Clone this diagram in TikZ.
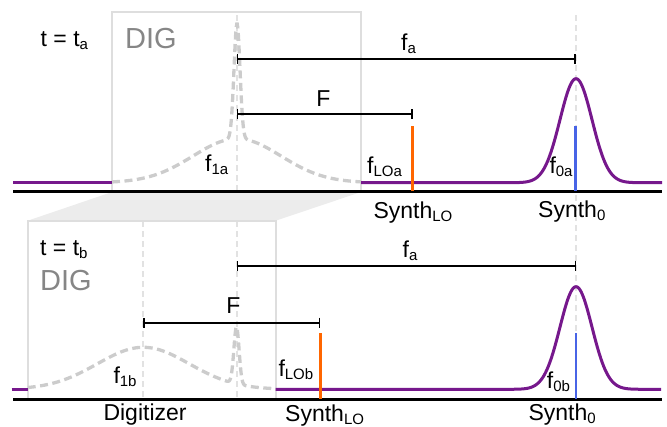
\documentclass[tikz,border=0pt]{standalone}
\usepackage{fontspec}
\setmainfont{Liberation Sans}
\usetikzlibrary{arrows.meta}
\newcommand{\sbs}[1]{\raisebox{-3pt}{\fontsize{15}{15}\selectfont #1}}
\definecolor{purp}{RGB}{118,24,140}
\definecolor{orng}{RGB}{255,102,0}
\definecolor{blu}{RGB}{72,100,230}
\definecolor{boxgray}{RGB}{222,222,222}
\definecolor{fillgray}{RGB}{236,236,236}
\definecolor{curvegray}{RGB}{204,204,204}
\definecolor{vgray}{RGB}{226,226,226}
\definecolor{diggray}{RGB}{134,134,134}
\begin{document}
\begin{tikzpicture}[x=1pt,y=-1pt,
  lbl/.style={anchor=base west, inner sep=0pt, font=\fontsize{23}{23}\selectfont},
  dig/.style={anchor=base west, inner sep=0pt, text=diggray, font=\fontsize{29}{29}\selectfont},
  digbox/.style={draw=boxgray, line width=2.2pt},
  vdash/.style={draw=vgray, line width=2pt, dash pattern=on 6pt off 4pt},
  dcurve/.style={draw=curvegray, line width=3.3pt, dash pattern=on 8pt off 4.5pt},
  purpline/.style={draw=purp, line width=3pt},
  axis/.style={draw=black, line width=3pt},
  bracket/.style={draw=black, line width=2pt, {Bar[width=10pt,line width=1.4pt]}-{Bar[width=10pt,line width=1.4pt]}},
  lo/.style={draw=orng, line width=3pt},
  sig/.style={draw=blu, line width=2.7pt}]
\useasboundingbox (0,0) rectangle (667,426);

% coordinates
\coordinate (v1t) at (237,15);   \coordinate (v1b) at (237,399);
\coordinate (v0t) at (576,15);   \coordinate (v0b) at (576,399);
\coordinate (v2t) at (143.3,221); \coordinate (v2b) at (143.3,399);

% trapezoid linking the two DIG boxes
\fill[fillgray] (112,192) -- (361,192) -- (275.7,220.7) -- (27.7,220.7) -- cycle;

% vertical dashed guides
\draw[vdash] (v1t) -- (237,191);
\draw[vdash] (237,221) -- (v1b);
\draw[vdash] (v0t) -- (v0b);
\draw[vdash] (v2t) -- (v2b);

% DIG boxes
\draw[digbox] (112,191) -- (112,12.3) -- (361,12.3) -- (361,191);
\draw[digbox] (27.7,399) -- (27.7,220.7) -- (275.7,220.7) -- (275.7,399);

% ---------- top panel spectra ----------
\draw[dcurve] plot[domain=112:361, samples=500, variable=\x]
  (\x, {182.7-44*exp(max(-12,-0.5*((\x-237)/44)*((\x-237)/44)))-115*exp(max(-12,-0.5*((\x-237)/3)*((\x-237)/3)))});
\draw[purpline] (13,182.7) -- (112,182.7);
\draw[purpline] plot[domain=361:662, samples=302, variable=\x]
  (\x, {182.7-104*exp(max(-12,-0.5*((\x-576)/16)*((\x-576)/16)))});

% ---------- bottom panel spectra ----------
\draw[dcurve] plot[domain=27.7:275.7, samples=500, variable=\x]
  (\x, {389.3-42*exp(max(-12,-0.5*((\x-143.3)/46)*((\x-143.3)/46)))-57*exp(max(-12,-0.5*((\x-236.5)/2.6)*((\x-236.5)/2.6)))});
\draw[purpline] (11.7,389.3) -- (27.7,389.3);
\draw[purpline] plot[domain=275.7:661, samples=386, variable=\x]
  (\x, {389.3-102.6*exp(max(-12,-0.5*((\x-576)/16)*((\x-576)/16)))});

% axes
\coordinate (a1l) at (13,191.5); \coordinate (a1r) at (662,191.5);
\coordinate (a2l) at (13,399.3); \coordinate (a2r) at (662,399.3);
\draw[axis] (a1l) -- (a1r);
\draw[axis] (a2l) -- (a2r);

% LO and signal lines
\coordinate (lo1t) at (412.7,126); \coordinate (lo1b) at (412.7,191);
\coordinate (s1t) at (575.7,126);  \coordinate (s1b) at (575.7,191);
\coordinate (lo2t) at (320,333);   \coordinate (lo2b) at (320,399);
\coordinate (s2t) at (576,333);    \coordinate (s2b) at (576,399);
\draw[lo] (lo1t) -- (lo1b);
\draw[sig] (s1t) -- (s1b);
\draw[lo] (lo2t) -- (lo2b);
\draw[sig] (s2t) -- (s2b);

% brackets
\coordinate (fa1s) at (237,59);    \coordinate (fa1e) at (575.7,59);
\coordinate (F1s) at (237,114);    \coordinate (F1e) at (412.7,114);
\coordinate (fa2s) at (237,265.7); \coordinate (fa2e) at (576,265.7);
\coordinate (F2s) at (143.3,322.7);\coordinate (F2e) at (320,322.7);
\draw[bracket] (fa1s) -- (fa1e);
\draw[bracket] (F1s) -- (F1e);
\draw[bracket] (fa2s) -- (fa2e);
\draw[bracket] (F2s) -- (F2e);

% labels top
\node[lbl] (ta) at (40.5,46.7) {t = t\sbs{a}};
\node[dig] (diga) at (125,48.3) {DIG};
\node[lbl, anchor=base] (lfa1) at (408.5,50) {f\sbs{a}};
\node[lbl, anchor=base] (lF1) at (323.5,106.7) {F};
\node[lbl] (f1a) at (205,171) {f\sbs{1a}};
\node[lbl] (fLOa) at (367,173.3) {f\sbs{LOa}};
\node[lbl] (f0a) at (549.3,173.3) {f\sbs{0a}};
\node[lbl] (sLO1) at (373.3,218) {Synth\sbs{LO}};
\node[lbl] (s01) at (538,217) {Synth\sbs{0}};

% labels bottom
\node[lbl] (tb) at (40,255) {t = t\sbs{b}};
\node[dig] (digb) at (40,290) {DIG};
\node[lbl, anchor=base] (lfa2) at (410,257.3) {f\sbs{a}};
\node[lbl, anchor=base] (lF2) at (233.3,313.3) {F};
\node[lbl] (f1b) at (113.3,383.3) {f\sbs{1b}};
\node[lbl] (fLOb) at (278.3,376) {f\sbs{LOb}};
\node[lbl] (f0b) at (546.7,388) {f\sbs{0b}};
\node[lbl] (dgt) at (103.3,420.7) {Digitizer};
\node[lbl] (sLO2) at (285,421.5) {Synth\sbs{LO}};
\node[lbl] (s02) at (528.3,420.7) {Synth\sbs{0}};
\end{tikzpicture}
\end{document}
